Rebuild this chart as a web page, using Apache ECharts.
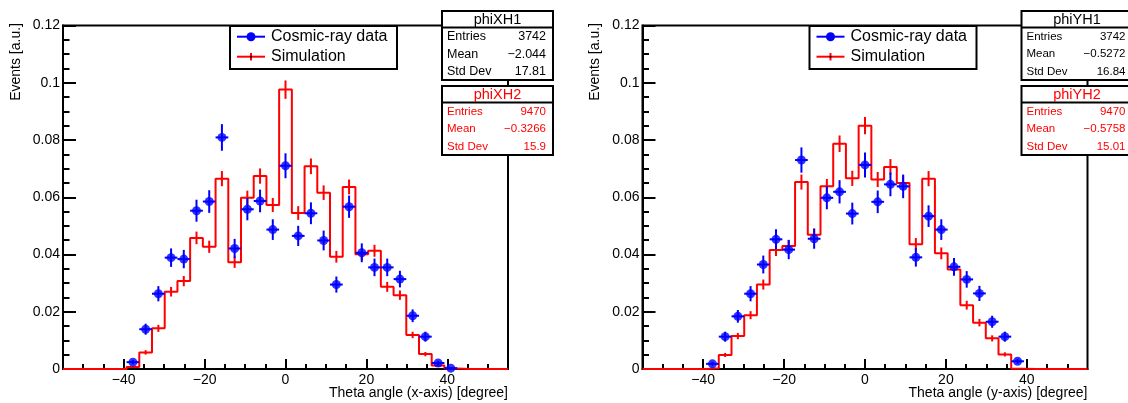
<!DOCTYPE html>
<html>
<head>
<meta charset="utf-8">
<title>Theta angle distributions</title>
<script src="https://cdn.jsdelivr.net/npm/echarts@6/dist/echarts.min.js"></script>
<style>
  html, body { margin: 0; padding: 0; background: #ffffff; }
  #chart { width: 1128px; height: 403px; }
</style>
</head>
<body>
<div id="chart"></div>
<script>
// Binning shared by all four histograms: 35 bins over -55..55 degrees
const BIN_LOW = -55;
const BIN_HIGH = 55;
const N_BINS = 35;

// Normalised bin contents, one entry per bin (x-axis projection)
const dataX = [0, 0, 0, 0, 0, 0.0024, 0.0139, 0.0263, 0.0389, 0.0384, 0.0553, 0.0585, 0.0809, 0.0421, 0.0558,
  0.0587, 0.0487, 0.0710, 0.0465, 0.0544, 0.0449, 0.0295, 0.0567, 0.0406, 0.0355, 0.0355, 0.0314, 0.0186,
  0.0113, 0.0021, 0.0003, 0, 0, 0, 0];
const simX = [0, 0, 0, 0, 0, 0.0007, 0.0058, 0.0142, 0.0270, 0.0307, 0.0458, 0.0427, 0.0665, 0.0373, 0.0598,
  0.0674, 0.0573, 0.0976, 0.0545, 0.0708, 0.0616, 0.0392, 0.0636, 0.0401, 0.0413, 0.0287, 0.0258, 0.0119,
  0.0052, 0.0012, 0.0002, 0, 0, 0, 0];

// Normalised bin contents (y-axis projection)
const dataY = [0, 0, 0, 0, 0, 0.0018, 0.0113, 0.0184, 0.0263, 0.0365, 0.0453, 0.0417, 0.0730, 0.0455, 0.0598,
  0.0619, 0.0543, 0.0713, 0.0584, 0.0645, 0.0638, 0.0390, 0.0534, 0.0487, 0.0357, 0.0313, 0.0264, 0.0165,
  0.0113, 0.0027, 0, 0, 0, 0, 0];
const simY = [0, 0, 0, 0, 0, 0.0003, 0.0049, 0.0115, 0.0188, 0.0295, 0.0416, 0.0430, 0.0653, 0.0469, 0.0638,
  0.0787, 0.0666, 0.0850, 0.0662, 0.0706, 0.0650, 0.0436, 0.0665, 0.0404, 0.0348, 0.0223, 0.0162, 0.0107,
  0.0051, 0.0001, 0, 0, 0, 0, 0];

// Axis tick values
const xMajorTicks = [-40, -20, 0, 20, 40];
const xMinorTicks = [-50, -45, -35, -30, -25, -15, -10, -5, 5, 10, 15, 25, 30, 35, 45, 50];

// Statistics boxes
const statNames = ['Entries', 'Mean', 'Std Dev'];
const statsXH1 = ['3742', '\u22122.044', '17.81'];
const statsXH2 = ['9470', '\u22120.3266', '15.9'];
const statsYH1 = ['3742', '\u22120.5272', '16.84'];
const statsYH2 = ['9470', '\u22120.5758', '15.01'];
const entriesData = 3742;
const entriesSim = 9470;

const FONT = '"Liberation Sans", Arial, Helvetica, sans-serif';
const BLUE = '#0000ff';
const RED = '#ff0000';

const binWidth = (BIN_HIGH - BIN_LOW) / N_BINS;
const centers = Array.from({ length: N_BINS }, (_, i) => BIN_LOW + (i + 0.5) * binWidth);

const panels = [
  { left: 63, data: dataX, sim: simX, h1: 'phiXH1', h2: 'phiXH2', s1: statsXH1, s2: statsXH2,
    f1: 12.5, f2: 11.5, xTitle: 'Theta angle (x-axis) [degree]' },
  { left: 642.5, data: dataY, sim: simY, h1: 'phiYH1', h2: 'phiYH2', s1: statsYH1, s2: statsYH2,
    f1: 11.5, f2: 11.5, xTitle: 'Theta angle (y-axis) [degree]' }
];

const GRID_TOP = 25.5;
const GRID_W = 445;
const GRID_H = 343.5;

const minusFmt = v => String(v).replace('-', '\u2212');

const grids = [], xAxes = [], yAxes = [], series = [], graphics = [];

panels.forEach((p, k) => {
  grids.push({
    left: p.left, top: GRID_TOP, width: GRID_W, height: GRID_H,
    show: true, borderColor: '#000', borderWidth: 2, backgroundColor: 'transparent'
  });
  // major x ticks with labels
  xAxes.push({
    gridIndex: k, type: 'value', min: BIN_LOW, max: BIN_HIGH, position: 'bottom',
    axisLine: { show: true, onZero: false, lineStyle: { color: '#000', width: 2 } },
    axisTick: { show: true, inside: true, length: 10, customValues: xMajorTicks, lineStyle: { color: '#000', width: 2 } },
    axisLabel: { show: true, customValues: xMajorTicks, margin: 4, color: '#000', fontSize: 14, fontFamily: FONT, formatter: minusFmt },
    splitLine: { show: false }
  });
  // minor x ticks
  xAxes.push({
    gridIndex: k, type: 'value', min: BIN_LOW, max: BIN_HIGH, position: 'bottom',
    axisLine: { show: false },
    axisTick: { show: true, inside: true, length: 5, customValues: xMinorTicks, lineStyle: { color: '#000', width: 2 } },
    axisLabel: { show: false },
    splitLine: { show: false }
  });
  yAxes.push({
    gridIndex: k, type: 'value', min: 0, max: 0.12, interval: 0.02,
    axisLine: { show: true, onZero: false, lineStyle: { color: '#000', width: 2 } },
    axisTick: { show: true, inside: true, length: 13, lineStyle: { color: '#000', width: 2 } },
    minorTick: { show: true, splitNumber: 4, length: 6.5, lineStyle: { color: '#000', width: 2 } },
    axisLabel: { show: true, margin: 3, color: '#000', fontSize: 14, fontFamily: FONT },
    splitLine: { show: false }, minorSplitLine: { show: false }
  });

  // simulation: step histogram through the bin edges
  const steps = p.sim.map((v, i) => [BIN_LOW + i * binWidth, v]);
  steps.push([BIN_HIGH, p.sim[N_BINS - 1]]);
  series.push({
    type: 'line', xAxisIndex: 2 * k, yAxisIndex: k, step: 'end', data: steps,
    showSymbol: false, symbol: 'none', lineStyle: { color: RED, width: 2 }, z: 3, silent: true
  });
  // simulation statistical errors
  const simErr = p.sim.map((v, i) => [centers[i], v, Math.sqrt(v / entriesSim)]).filter(d => d[1] > 0);
  series.push({
    type: 'custom', xAxisIndex: 2 * k, yAxisIndex: k, data: simErr, z: 3, silent: true,
    encode: { x: 0, y: 1 },
    renderItem: (params, api) => {
      const x = api.value(0), y = api.value(1), e = api.value(2);
      const a = api.coord([x, y - e]), b = api.coord([x, y + e]);
      return { type: 'line', shape: { x1: a[0], y1: a[1], x2: b[0], y2: b[1] }, style: { stroke: RED, lineWidth: 2 } };
    }
  });
  // cosmic-ray data points with errors
  const dat = p.data.map((v, i) => [centers[i], v, Math.sqrt(v / entriesData)]).filter(d => d[1] > 0);
  series.push({
    type: 'custom', xAxisIndex: 2 * k, yAxisIndex: k, data: dat, z: 4, silent: true,
    encode: { x: 0, y: 1 },
    renderItem: (params, api) => {
      const x = api.value(0), y = api.value(1), e = api.value(2);
      const a = api.coord([x, y - e]), b = api.coord([x, y + e]);
      const l = api.coord([x - binWidth / 2, y]), r = api.coord([x + binWidth / 2, y]);
      return { type: 'group', children: [
        { type: 'line', shape: { x1: a[0], y1: a[1], x2: b[0], y2: b[1] }, style: { stroke: BLUE, lineWidth: 2 } },
        { type: 'line', shape: { x1: l[0], y1: l[1], x2: r[0], y2: r[1] }, style: { stroke: BLUE, lineWidth: 2 } }
      ] };
    }
  });
  series.push({
    type: 'scatter', xAxisIndex: 2 * k, yAxisIndex: k, data: dat.map(d => [d[0], d[1]]),
    symbol: 'circle', symbolSize: 9, itemStyle: { color: BLUE }, z: 5, silent: true
  });

  const L = p.left;
  // axis titles
  graphics.push({
    type: 'text', x: L - 47, y: 23, rotation: Math.PI / 2,
    style: { text: 'Events [a.u.]', font: '14px ' + FONT, fill: '#000', align: 'right', verticalAlign: 'middle' }
  });
  graphics.push({
    type: 'text', x: L + GRID_W, y: 393,
    style: { text: p.xTitle, font: '14px ' + FONT, fill: '#000', align: 'right', verticalAlign: 'middle' }
  });

  // legend
  const lx = L + 167;
  graphics.push({ type: 'rect', shape: { x: lx, y: 26, width: 167, height: 43 },
    style: { fill: '#fff', stroke: '#000', lineWidth: 2 }, z: 10 });
  graphics.push({ type: 'line', shape: { x1: L + 174, y1: 36.7, x2: L + 202, y2: 36.7 },
    style: { stroke: BLUE, lineWidth: 2 }, z: 11 });
  graphics.push({ type: 'circle', shape: { cx: L + 188, cy: 36.7, r: 4.5 }, style: { fill: BLUE }, z: 11 });
  graphics.push({ type: 'text', x: L + 208, y: 36.7,
    style: { text: 'Cosmic-ray data', font: '16px ' + FONT, fill: '#000', verticalAlign: 'middle' }, z: 11 });
  graphics.push({ type: 'line', shape: { x1: L + 174, y1: 56.7, x2: L + 202, y2: 56.7 },
    style: { stroke: RED, lineWidth: 2 }, z: 11 });
  graphics.push({ type: 'line', shape: { x1: L + 188, y1: 53, x2: L + 188, y2: 60.5 },
    style: { stroke: RED, lineWidth: 2 }, z: 11 });
  graphics.push({ type: 'circle', shape: { cx: L + 188, cy: 56.7, r: 1 }, style: { fill: '#000' }, z: 12 });
  graphics.push({ type: 'text', x: L + 208, y: 56.7,
    style: { text: 'Simulation', font: '16px ' + FONT, fill: '#000', verticalAlign: 'middle' }, z: 11 });

  // statistics boxes
  const bx = L + 379, bw = 111;
  const statBox = (top, title, names, vals, color, fs) => {
    graphics.push({ type: 'rect', shape: { x: bx, y: top, width: bw, height: 69 },
      style: { fill: '#fff', stroke: '#000', lineWidth: 2 }, z: 10 });
    graphics.push({ type: 'line', shape: { x1: bx, y1: top + 16.5, x2: bx + bw, y2: top + 16.5 },
      style: { stroke: '#000', lineWidth: 2 }, z: 11 });
    graphics.push({ type: 'text', x: bx + bw / 2, y: top + 8.5,
      style: { text: title, font: '14.5px ' + FONT, fill: color, align: 'center', verticalAlign: 'middle' }, z: 11 });
    names.forEach((n, j) => {
      const ty = top + 26 + j * 17.3;
      graphics.push({ type: 'text', x: bx + 5, y: ty,
        style: { text: n, font: fs + 'px ' + FONT, fill: color, verticalAlign: 'middle' }, z: 11 });
      graphics.push({ type: 'text', x: bx + 104, y: ty,
        style: { text: vals[j], font: fs + 'px ' + FONT, fill: color, align: 'right', verticalAlign: 'middle' }, z: 11 });
    });
  };
  statBox(11, p.h1, statNames, p.s1, '#000', p.f1);
  statBox(86, p.h2, statNames, p.s2, RED, p.f2);
});

const chart = echarts.init(document.getElementById('chart'), null, { renderer: 'canvas' });
chart.setOption({
  animation: false,
  backgroundColor: '#ffffff',
  grid: grids,
  xAxis: xAxes,
  yAxis: yAxes,
  series: series,
  graphic: graphics
});
</script>
</body>
</html>
